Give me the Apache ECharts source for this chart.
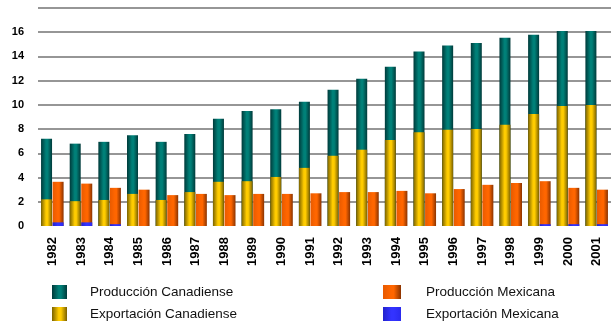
<!DOCTYPE html>
<html>
<head>
<meta charset="utf-8">
<script src="https://cdn.jsdelivr.net/npm/echarts@6/dist/echarts.min.js"></script>
<style>
  html, body { margin: 0; padding: 0; background: #fff; }
  #chart { width: 613px; height: 325px; }
</style>
</head>
<body>
<div id="chart"></div>
<script>
// Years on the category axis
const years = ['1982','1983','1984','1985','1986','1987','1988','1989','1990','1991',
               '1992','1993','1994','1995','1996','1997','1998','1999','2000','2001'];

// Series values
const produccionCanadiense = [7.2, 6.8, 6.95, 7.5, 6.95, 7.6, 8.85, 9.5, 9.65, 10.25,
                              11.25, 12.15, 13.15, 14.4, 14.9, 15.1, 15.55, 15.8, 16.1, 16.1];
const exportacionCanadiense = [2.2, 2.05, 2.15, 2.65, 2.15, 2.8, 3.65, 3.7, 4.05, 4.8,
                               5.8, 6.3, 7.1, 7.75, 7.95, 8.0, 8.35, 9.25, 9.9, 10.0];
const produccionMexicana = [3.65, 3.5, 3.15, 3.0, 2.55, 2.65, 2.55, 2.65, 2.65, 2.7,
                            2.8, 2.8, 2.9, 2.7, 3.05, 3.4, 3.55, 3.7, 3.15, 3.0];
const exportacionMexicana = [0.3, 0.3, 0.15, 0, 0, 0, 0, 0, 0, 0,
                             0, 0, 0, 0, 0, 0, 0, 0.15, 0.15, 0.15];

// Value-axis tick labels (top line at 18 is unlabeled)
const yTicks = ['0', '2', '4', '6', '8', '10', '12', '14', '16', ''];

const names = ['Producción Canadiense', 'Exportación Canadiense', 'Producción Mexicana', 'Exportación Mexicana'];

function cylinder(edgeL, mid, edgeR) {
  return new echarts.graphic.LinearGradient(0, 0, 1, 0, [
    { offset: 0, color: edgeL },
    { offset: 0.45, color: mid },
    { offset: 0.6, color: mid },
    { offset: 1, color: edgeR }
  ]);
}

const tealFill = cylinder('#003a3a', '#008078', '#003a3a');
const yellowFill = cylinder('#7a6200', '#ffcc00', '#7a6000');
const orangeFill = cylinder('#e85a00', '#ff6600', '#8a3300');
const blueFill = cylinder('#2222cc', '#3333ff', '#2a2aee');

const gridColors = ['rgba(0,0,0,0)'].concat(new Array(9).fill('#969696'));

const chart = echarts.init(document.getElementById('chart'), null, { renderer: 'canvas' });

const catAxis = {
  type: 'category',
  data: years,
  axisLine: { show: false },
  axisTick: { show: false },
  axisLabel: {
    rotate: 90,
    margin: 11,
    fontFamily: 'Liberation Sans',
    fontWeight: 'bold',
    fontSize: 13,
    color: '#000'
  }
};

const legendText = { fontFamily: 'Liberation Sans', fontSize: 13.5, color: '#111' };

chart.setOption({
  animation: false,
  backgroundColor: '#ffffff',
  grid: { left: 38, right: 2, top: 8, bottom: 99 },
  xAxis: [
    catAxis,
    Object.assign({}, catAxis, { axisLabel: { show: false } })
  ],
  yAxis: {
    type: 'value',
    min: 0,
    max: 18,
    interval: 2,
    axisLine: { show: false },
    axisTick: { show: false },
    splitLine: { lineStyle: { color: gridColors, width: 2 } },
    axisLabel: {
      margin: 14,
      fontFamily: 'Liberation Sans',
      fontWeight: 'bold',
      fontSize: 11,
      color: '#000',
      formatter: function (v) { return yTicks[Math.round(v / 2)]; }
    }
  },
  legend: [
    {
      data: [names[0], names[1]],
      orient: 'vertical',
      left: 52, top: 285, padding: 0,
      icon: 'rect',
      itemWidth: 15, itemHeight: 14, itemGap: 8,
      textStyle: Object.assign({ padding: [0, 0, 0, 18] }, legendText)
    },
    {
      data: [names[2], names[3]],
      orient: 'vertical',
      left: 383, top: 285, padding: 0,
      icon: 'rect',
      itemWidth: 18, itemHeight: 14, itemGap: 8,
      textStyle: Object.assign({ padding: [0, 0, 0, 20] }, legendText)
    }
  ],
  series: [
    {
      name: names[0], type: 'bar', xAxisIndex: 0,
      data: produccionCanadiense, barWidth: 11, barGap: '5%',
      itemStyle: { color: tealFill }
    },
    {
      name: names[2], type: 'bar', xAxisIndex: 0,
      data: produccionMexicana, barWidth: 11, barGap: '5%',
      itemStyle: { color: orangeFill }
    },
    {
      name: names[1], type: 'bar', xAxisIndex: 1,
      data: exportacionCanadiense, barWidth: 11, barGap: '5%',
      itemStyle: { color: yellowFill }
    },
    {
      name: names[3], type: 'bar', xAxisIndex: 1,
      data: exportacionMexicana, barWidth: 11, barGap: '5%',
      itemStyle: { color: blueFill }
    }
  ]
});
</script>
</body>
</html>
